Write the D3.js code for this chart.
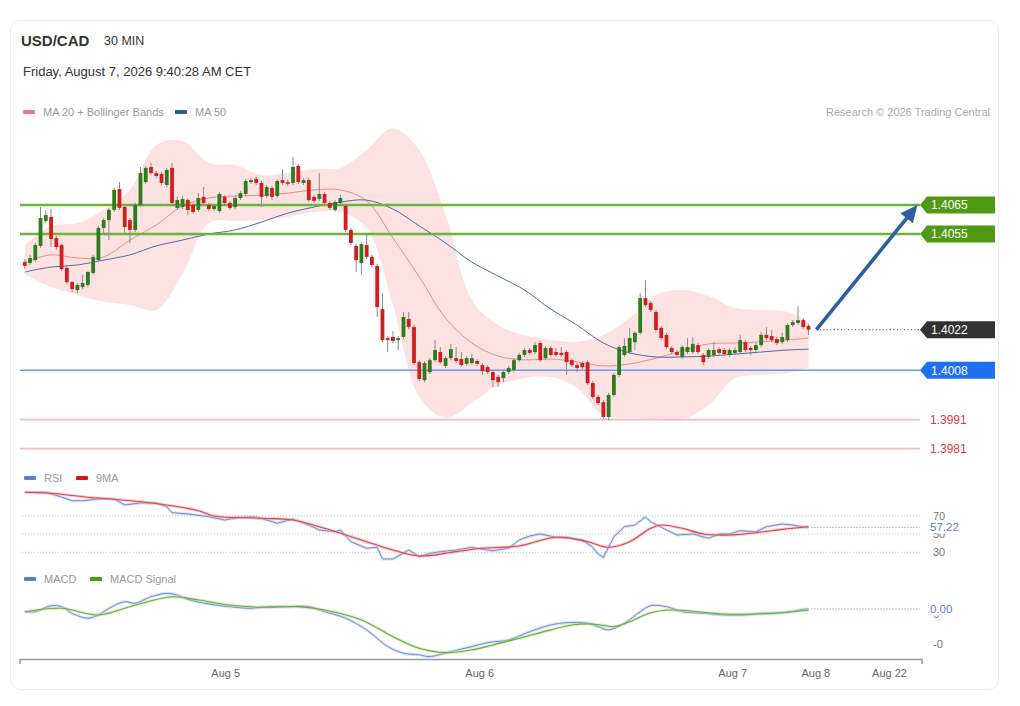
<!DOCTYPE html>
<html><head><meta charset="utf-8">
<script src="https://cdn.jsdelivr.net/npm/d3@7"></script>
<style>
body{margin:0;background:#fff;font-family:"Liberation Sans",Arial,sans-serif}
svg text{font-family:"Liberation Sans",Arial,sans-serif}
</style></head>
<body><svg id="c" width="1020" height="706"></svg>
<script>
// ---------- DATA ----------
const open=[1.40453,1.40450,1.40460,1.40509,1.40595,1.40609,1.40536,1.40512,1.40433,1.40384,
1.40357,1.40367,1.40374,1.40416,1.40460,1.40571,1.40598,1.40633,1.40705,1.40643,
1.40598,1.40564,1.40650,1.40729,1.40781,1.40760,1.40757,1.40719,1.40778,1.40640,
1.40643,1.40667,1.40650,1.40633,1.40678,1.40650,1.40636,1.40629,1.40678,1.40657,
1.40643,1.40674,1.40688,1.40729,1.40740,1.40726,1.40681,1.40709,1.40681,1.40736,
1.40729,1.40726,1.40785,1.40726,1.40736,1.40678,1.40671,1.40688,1.40657,1.40633,
1.40657,1.40647,1.40564,1.40509,1.40450,1.40512,1.40471,1.40440,1.40291,1.40191,
1.40195,1.40184,1.40195,1.40257,1.40229,1.40108,1.40046,1.40074,1.40115,1.40143,
1.40095,1.40122,1.40122,1.40119,1.40102,1.40105,1.40112,1.40098,1.40091,1.40074,
1.40057,1.40053,1.40074,1.40081,1.40115,1.40133,1.40150,1.40143,1.40174,1.40122,
1.40157,1.40143,1.40140,1.40143,1.40115,1.40098,1.40105,1.40108,1.40036,1.39988,
1.39970,1.39919,1.39995,1.40064,1.40133,1.40143,1.40177,1.40209,1.40329,1.40312,
1.40281,1.40226,1.40202,1.40157,1.40143,1.40126,1.40143,1.40143,1.40167,1.40133,
1.40126,1.40133,1.40153,1.40150,1.40133,1.40140,1.40143,1.40177,1.40157,1.40150,
1.40167,1.40202,1.40198,1.40188,1.40177,1.40184,1.40236,1.40243,1.40253,1.40233];
const high=[1.40464,1.40478,1.40519,1.40643,1.40633,1.40636,1.40543,1.40515,1.40440,1.40388,
1.40381,1.40409,1.40422,1.40478,1.40578,1.40605,1.40640,1.40709,1.40729,1.40650,
1.40605,1.40657,1.40781,1.40785,1.40795,1.40767,1.40764,1.40778,1.40795,1.40678,
1.40681,1.40674,1.40657,1.40691,1.40712,1.40657,1.40653,1.40695,1.40685,1.40664,
1.40681,1.40698,1.40740,1.40743,1.40747,1.40733,1.40719,1.40716,1.40740,1.40774,
1.40736,1.40816,1.40791,1.40743,1.40743,1.40685,1.40760,1.40695,1.40664,1.40667,
1.40685,1.40653,1.40571,1.40515,1.40522,1.40553,1.40478,1.40447,1.40346,1.40198,
1.40215,1.40198,1.40281,1.40281,1.40236,1.40115,1.40112,1.40122,1.40184,1.40160,
1.40129,1.40171,1.40160,1.40143,1.40129,1.40136,1.40119,1.40105,1.40098,1.40081,
1.40064,1.40081,1.40095,1.40122,1.40140,1.40157,1.40157,1.40177,1.40181,1.40164,
1.40164,1.40157,1.40160,1.40150,1.40122,1.40105,1.40112,1.40115,1.40043,1.39995,
1.39977,1.40002,1.40071,1.40167,1.40191,1.40226,1.40215,1.40346,1.40391,1.40319,
1.40288,1.40233,1.40209,1.40164,1.40150,1.40167,1.40191,1.40195,1.40174,1.40140,
1.40157,1.40177,1.40160,1.40157,1.40157,1.40160,1.40202,1.40184,1.40164,1.40174,
1.40212,1.40229,1.40219,1.40195,1.40209,1.40243,1.40253,1.40302,1.40260,1.40240];
const low=[1.40429,1.40443,1.40453,1.40502,1.40588,1.40505,1.40495,1.40422,1.40378,1.40350,
1.40346,1.40360,1.40367,1.40409,1.40453,1.40547,1.40529,1.40626,1.40633,1.40553,
1.40519,1.40557,1.40643,1.40723,1.40754,1.40743,1.40719,1.40712,1.40650,1.40633,
1.40636,1.40615,1.40619,1.40626,1.40650,1.40629,1.40629,1.40622,1.40650,1.40633,
1.40636,1.40667,1.40681,1.40723,1.40719,1.40643,1.40674,1.40667,1.40674,1.40719,
1.40716,1.40719,1.40723,1.40719,1.40660,1.40657,1.40664,1.40650,1.40633,1.40626,
1.40650,1.40557,1.40512,1.40419,1.40409,1.40464,1.40436,1.40264,1.40177,1.40143,
1.40174,1.40150,1.40188,1.40222,1.40098,1.40043,1.40040,1.40067,1.40108,1.40102,
1.40088,1.40115,1.40105,1.40091,1.40095,1.40098,1.40095,1.40064,1.40067,1.40022,
1.40022,1.40040,1.40067,1.40074,1.40108,1.40126,1.40133,1.40136,1.40108,1.40115,
1.40126,1.40126,1.40126,1.40064,1.40091,1.40074,1.40084,1.40029,1.39981,1.39960,
1.39912,1.39908,1.39988,1.40057,1.40126,1.40136,1.40150,1.40202,1.40298,1.40281,
1.40212,1.40184,1.40153,1.40136,1.40126,1.40119,1.40136,1.40136,1.40136,1.40098,
1.40119,1.40126,1.40133,1.40129,1.40126,1.40133,1.40136,1.40143,1.40133,1.40143,
1.40160,1.40184,1.40177,1.40167,1.40171,1.40177,1.40229,1.40236,1.40222,1.40202];
const close=[1.40440,1.40467,1.40512,1.40605,1.40615,1.40533,1.40505,1.40429,1.40384,1.40360,
1.40374,1.40381,1.40419,1.40471,1.40571,1.40598,1.40633,1.40702,1.40640,1.40574,
1.40564,1.40650,1.40760,1.40778,1.40760,1.40750,1.40726,1.40771,1.40657,1.40667,
1.40671,1.40633,1.40626,1.40674,1.40657,1.40636,1.40647,1.40688,1.40657,1.40640,
1.40674,1.40691,1.40733,1.40736,1.40726,1.40678,1.40712,1.40678,1.40733,1.40726,
1.40723,1.40781,1.40729,1.40736,1.40667,1.40664,1.40688,1.40657,1.40640,1.40660,
1.40674,1.40564,1.40519,1.40460,1.40515,1.40471,1.40443,1.40298,1.40184,1.40184,
1.40181,1.40191,1.40264,1.40229,1.40105,1.40050,1.40105,1.40115,1.40150,1.40108,
1.40122,1.40153,1.40112,1.40098,1.40122,1.40122,1.40102,1.40077,1.40074,1.40046,
1.40040,1.40074,1.40088,1.40115,1.40133,1.40150,1.40140,1.40167,1.40115,1.40157,
1.40133,1.40133,1.40133,1.40108,1.40098,1.40088,1.40091,1.40036,1.39988,1.39967,
1.39919,1.39995,1.40064,1.40160,1.40164,1.40191,1.40209,1.40329,1.40305,1.40288,
1.40219,1.40191,1.40160,1.40143,1.40133,1.40160,1.40160,1.40171,1.40143,1.40108,
1.40150,1.40150,1.40140,1.40136,1.40150,1.40150,1.40184,1.40150,1.40150,1.40167,
1.40202,1.40191,1.40184,1.40174,1.40195,1.40236,1.40246,1.40253,1.40229,1.40220];

const bandIdx=[1,6,11,16,21,26,31,36,41,46,51,56,61,66,71,76,81,86,91,96,101,106,111,116,121,126,131,136,141,146,150];
const bbUpper=[1.40512,1.40578,1.40588,1.40633,1.40702,1.40857,1.40871,1.40795,1.40788,1.40753,1.40760,1.40774,1.40778,1.40840,1.40915,1.40840,1.40616,1.40322,1.40236,1.40202,1.40185,1.40178,1.40202,1.40260,1.40340,1.40357,1.40336,1.40295,1.40288,1.40281,1.40247];
const bbLower=[1.40412,1.40367,1.40340,1.40316,1.40305,1.40288,1.40412,1.40588,1.40595,1.40598,1.40609,1.40626,1.40626,1.40571,1.40305,1.39988,1.39916,1.39967,1.40029,1.40053,1.40057,1.40019,1.39926,1.39916,1.39909,1.39909,1.39960,1.40053,1.40064,1.40071,1.40088];
const ma20=[1.40453,1.40478,1.40467,1.40471,1.40529,1.40581,1.40647,1.40674,1.40681,1.40684,1.40691,1.40702,1.40702,1.40664,1.40536,1.40402,1.40260,1.40174,1.40129,1.40116,1.40119,1.40109,1.40095,1.40102,1.40122,1.40147,1.40171,1.40174,1.40178,1.40185,1.40191];
const ma50=[1.40419,1.40436,1.40443,1.40460,1.40478,1.40509,1.40529,1.40550,1.40564,1.40591,1.40622,1.40643,1.40660,1.40667,1.40636,1.40578,1.40519,1.40453,1.40405,1.40357,1.40291,1.40236,1.40174,1.40140,1.40126,1.40126,1.40129,1.40136,1.40143,1.40150,1.40153];

const resistances=[1.4065,1.4055];
const lastPrice=1.4022;
const pivot=1.4008;
const supports=[1.3991,1.3981];
const arrowFrom={i:151.5,p:1.4022};
const arrowTo={i:170.7,p:1.4065};

const rsiIdx=[1,5,8,10,12,15,18,20,23,26,28,29,32,36,39,42,45,47,49,52,55,57,60,61,63,66,68,69,71,74,76,78,80,83,86,88,90,93,95,97,99,102,104,107,109,110,111,113,115,117,119,120,123,125,128,131,133,135,137,140,142,145,147,148,150];
const rsiVal=[95.6,95.6,90.4,86.4,86.4,88.3,88.3,81.7,83.9,83.9,79.8,73.3,71.9,68.9,65.3,68.3,68.6,65.3,61.7,66.4,59.8,54.4,52.5,54.4,41.6,34.4,35.5,22.7,22.7,32.5,25.2,28.9,30.7,32.5,35.5,33.3,31.7,34.4,43.4,47.8,50.0,46.4,46.4,43.4,35.5,28.1,24.5,47.0,58.0,59.8,68.6,63.4,54.4,48.9,50.0,45.3,50.0,50.0,53.6,52.5,58.0,60.9,59.8,58.7,57.22];
const rsiMaIdx=[1,6,13,18,27,34,37,46,52,58,65,71,76,83,88,95,102,108,112,116,120,122,126,130,135,140,145,150];
const rsiMaVal=[95.6,94.5,90.1,87.9,82.5,75.5,69.7,67.2,65.3,56.2,43.4,32.5,26.0,30.7,34.4,36.9,46.4,41.6,35.5,41.6,56.2,59.8,56.2,50.0,48.9,51.4,55.1,58.0];
const rsiLevels=[70,50,30];

// MACD values in units of 0.0001
const macdIdx=[1,3,6,8,10,13,15,17,20,22,25,28,30,32,36,40,44,47,51,55,58,62,66,70,73,76,78,82,86,89,93,97,101,104,108,110,112,115,118,120,123,126,130,134,138,141,145,149,150];
const macdVal=[-0.23,-0.23,0.28,0.20,-0.37,-0.79,-0.51,0.06,0.62,0.49,1.05,1.34,1.20,0.83,0.43,0.20,0.06,0.20,0.20,0.20,-0.23,-0.79,-1.79,-3.22,-3.79,-3.93,-4.08,-3.65,-3.22,-2.88,-2.65,-1.94,-1.37,-1.17,-1.22,-1.51,-1.79,-1.22,-0.23,0.28,0.20,-0.23,-0.37,-0.51,-0.51,-0.37,-0.32,-0.03,0.00];
const sigIdx=[1,8,15,21,29,34,40,46,53,58,65,71,76,81,86,90,95,101,105,109,113,116,120,124,129,134,140,145,150];
const sigVal=[-0.23,0.06,-0.51,0.20,1.05,0.77,0.34,0.15,0.20,-0.09,-0.94,-2.37,-3.36,-3.74,-3.50,-3.08,-2.50,-1.79,-1.37,-1.28,-1.51,-1.09,-0.32,-0.09,-0.23,-0.43,-0.43,-0.32,-0.09];
const macdTicks=[0,-3];

const xTickIdx=[39.1,87.4,135.5,151.3,165.3];
const xTickLabels=["Aug 5","Aug 6","Aug 7","Aug 8","Aug 22"];

// ---------- DRAW ----------
const svg=d3.select("#c");
const x=d3.scaleLinear().domain([0,171.5]).range([19.5,921.6]);
const y=d3.scaleLinear().domain([1.3981,1.4065]).range([448.6,205]);
const yR=d3.scaleLinear().domain([30,70]).range([552.3,515.7]);
const yM=d3.scaleLinear().domain([-3,0]).range([644,609]);
const LX0=20, LX1=920, LBL=930;

// card
svg.append("rect").attr("x",10.5).attr("y",20.5).attr("width",988).attr("height",669).attr("rx",10)
  .attr("fill","#fff").attr("stroke","#ededed");

// header
svg.append("text").attr("x",21).attr("y",46).attr("font-size",15).attr("font-weight","bold").attr("fill","#333").text("USD/CAD");
svg.append("text").attr("x",104).attr("y",45).attr("font-size",12.5).attr("fill","#333").text("30 MIN");
svg.append("text").attr("x",23).attr("y",76).attr("font-size",13).attr("fill","#333").text("Friday, August 7, 2026 9:40:28 AM CET");

function legend(items,yy){
  items.forEach(it=>{
    svg.append("rect").attr("x",it.x).attr("y",yy-2).attr("width",12).attr("height",4).attr("rx",1).attr("fill",it.c);
    svg.append("text").attr("x",it.x+20).attr("y",yy+4).attr("font-size",11).attr("fill","#999").text(it.t);
  });
}
legend([{x:23,c:"#f07878",t:"MA 20 + Bollinger Bands"},{x:175,c:"#2e5a96",t:"MA 50"}],112);
svg.append("text").attr("x",990).attr("y",116).attr("text-anchor","end").attr("font-size",11).attr("fill","#aaa").text("Research © 2026 Trading Central");

// Bollinger band
const band=bandIdx.map((d,k)=>({i:d,u:bbUpper[k],l:bbLower[k],m20:ma20[k],m50:ma50[k]}));
svg.append("path").datum(band)
  .attr("d",d3.area().x(d=>x(d.i)).y0(d=>y(d.l)).y1(d=>y(d.u)).curve(d3.curveCatmullRom))
  .attr("fill","#fde2e2");
svg.append("path").datum(band).attr("d",d3.line().x(d=>x(d.i)).y(d=>y(d.m20)).curve(d3.curveCatmullRom))
  .attr("fill","none").attr("stroke","#f08a8a").attr("stroke-width",1);
svg.append("path").datum(band).attr("d",d3.line().x(d=>x(d.i)).y(d=>y(d.m50)).curve(d3.curveCatmullRom))
  .attr("fill","none").attr("stroke","#4a6ea8").attr("stroke-width",1);

// level lines
resistances.forEach(v=>{
  svg.append("line").attr("x1",LX0).attr("x2",LX1).attr("y1",y(v)).attr("y2",y(v)).attr("stroke","#6db33f").attr("stroke-width",2.5);
});
svg.append("line").attr("x1",LX0).attr("x2",LX1).attr("y1",y(pivot)).attr("y2",y(pivot)).attr("stroke","#6d98ee").attr("stroke-width",1.6);
supports.forEach(v=>{
  svg.append("line").attr("x1",LX0).attr("x2",LX1).attr("y1",y(v)).attr("y2",y(v)).attr("stroke","#f5bcbc").attr("stroke-width",1.6);
});

// candles
const candles=open.map((o,k)=>({i:k+1,o,h:high[k],l:low[k],c:close[k]}));
const cg=svg.append("g");
cg.selectAll("line.w").data(candles).join("line").attr("class","w")
  .attr("x1",d=>x(d.i)).attr("x2",d=>x(d.i)).attr("y1",d=>y(d.h)).attr("y2",d=>y(d.l))
  .attr("stroke","#8a8a8a").attr("stroke-width",1);
cg.selectAll("rect").data(candles).join("rect")
  .attr("x",d=>x(d.i)-1.9).attr("width",3.8)
  .attr("y",d=>y(Math.max(d.o,d.c)))
  .attr("height",d=>Math.max(1.2,Math.abs(y(d.o)-y(d.c))))
  .attr("fill",d=>d.c>=d.o?"#2d7a1f":"#d11f1f");

// last price dotted
svg.append("line").attr("x1",x(arrowFrom.i)).attr("x2",LX1).attr("y1",y(lastPrice)).attr("y2",y(lastPrice))
  .attr("stroke","#333").attr("stroke-dasharray","1,2.5").attr("stroke-width",1);

// arrow
(function(){
  const x1=x(arrowFrom.i),y1=y(arrowFrom.p),x2=x(arrowTo.i),y2=y(arrowTo.p);
  const ang=Math.atan2(y2-y1,x2-x1), L=17, Wd=8;
  const bx=x2-L*Math.cos(ang), by=y2-L*Math.sin(ang);
  svg.append("line").attr("x1",x1).attr("y1",y1).attr("x2",bx+3*Math.cos(ang)).attr("y2",by+3*Math.sin(ang))
    .attr("stroke","#2d5f9c").attr("stroke-width",3.6);
  const px=-Math.sin(ang),py=Math.cos(ang);
  svg.append("path").attr("d",`M${x2},${y2}L${bx+Wd*px},${by+Wd*py}L${bx-Wd*px},${by-Wd*py}Z`).attr("fill","#2d5f9c");
})();

// tags
function tag(v,color,txt){
  const yy=y(v);
  svg.append("path").attr("d",`M${LX1},${yy}L${LX1+7},${yy-8.5}L995,${yy-8.5}L995,${yy+8.5}L${LX1+7},${yy+8.5}Z`).attr("fill",color);
  svg.append("text").attr("x",LBL+1).attr("y",yy+4.3).attr("font-size",12).attr("fill","#fff").text(txt);
}
resistances.forEach(v=>tag(v,"#4f9a12",v.toFixed(4)));
tag(lastPrice,"#333333",lastPrice.toFixed(4));
tag(pivot,"#1f6ff0",pivot.toFixed(4));
supports.forEach(v=>{
  svg.append("text").attr("x",LBL).attr("y",y(v)+4.3).attr("font-size",12).attr("fill","#e5393b").text(v.toFixed(4));
});

// ---------- RSI ----------
legend([{x:24,c:"#5b7fd6",t:"RSI"},{x:76,c:"#e01010",t:"9MA"}],478);
rsiLevels.forEach(v=>{
  svg.append("line").attr("x1",LX0+2).attr("x2",LX1).attr("y1",yR(v)).attr("y2",yR(v))
    .attr("stroke","#c4c4c4").attr("stroke-dasharray","1,2").attr("stroke-width",1);
  svg.append("text").attr("x",LBL+3).attr("y",yR(v)+4).attr("font-size",11).attr("fill","#777").text(v);
});
const rsiPts=rsiIdx.map((d,k)=>[x(d),yR(rsiVal[k])]);
const rsiMaPts=rsiMaIdx.map((d,k)=>[x(d),yR(rsiMaVal[k])]);
const lineG=d3.line().curve(d3.curveLinear);
const lineS=d3.line().curve(d3.curveCatmullRom);
svg.append("path").attr("d",lineG(rsiPts)).attr("fill","none").attr("stroke","#a9bdf0").attr("stroke-width",3).attr("opacity",0.45);
svg.append("path").attr("d",lineG(rsiPts)).attr("fill","none").attr("stroke","#6d8ed9").attr("stroke-width",1);
svg.append("path").attr("d",lineS(rsiMaPts)).attr("fill","none").attr("stroke","#f3a0a0").attr("stroke-width",3).attr("opacity",0.5);
svg.append("path").attr("d",lineS(rsiMaPts)).attr("fill","none").attr("stroke","#e04545").attr("stroke-width",1.1);
const rsiLast=rsiVal[rsiVal.length-1];
svg.append("line").attr("x1",x(rsiIdx[rsiIdx.length-1])+3).attr("x2",LX1).attr("y1",yR(rsiLast)).attr("y2",yR(rsiLast))
  .attr("stroke","#5b7fd6").attr("stroke-dasharray","1,2").attr("stroke-width",1);
svg.append("rect").attr("x",LBL).attr("y",yR(rsiLast)-6).attr("width",34).attr("height",12).attr("fill","#fff");
svg.append("text").attr("x",LBL).attr("y",yR(rsiLast)+4).attr("font-size",11.5).attr("fill","#5b7fd6").text(rsiLast.toFixed(2));

// ---------- MACD ----------
legend([{x:24,c:"#5b7fd6",t:"MACD"},{x:90,c:"#4a9a1a",t:"MACD Signal"}],579);
const macdPts=macdIdx.map((d,k)=>[x(d),yM(macdVal[k])]);
const sigPts=sigIdx.map((d,k)=>[x(d),yM(sigVal[k])]);
svg.append("path").attr("d",lineS(macdPts)).attr("fill","none").attr("stroke","#a9bdf0").attr("stroke-width",3).attr("opacity",0.45);
svg.append("path").attr("d",lineS(macdPts)).attr("fill","none").attr("stroke","#6d8ed9").attr("stroke-width",1);
svg.append("path").attr("d",lineS(sigPts)).attr("fill","none").attr("stroke","#b5dc98").attr("stroke-width",3).attr("opacity",0.5);
svg.append("path").attr("d",lineS(sigPts)).attr("fill","none").attr("stroke","#6aae38").attr("stroke-width",1.1);
macdTicks.forEach(v=>{
  const yy=v===0?yM(v)+9:yM(v)+4;
  svg.append("text").attr("x",LBL+3).attr("y",yy).attr("font-size",11).attr("fill","#777").text((v/1e4).toFixed(0));
});
const macdLast=macdVal[macdVal.length-1];
svg.append("line").attr("x1",x(macdIdx[macdIdx.length-1])+3).attr("x2",LX1).attr("y1",yM(macdLast)).attr("y2",yM(macdLast))
  .attr("stroke","#5b7fd6").attr("stroke-dasharray","1,2").attr("stroke-width",1);
svg.append("rect").attr("x",LBL).attr("y",yM(macdLast)-6).attr("width",34).attr("height",12.5).attr("fill","#fff");
svg.append("text").attr("x",LBL).attr("y",yM(macdLast)+4).attr("font-size",11.5).attr("fill","#5b7fd6").text((macdLast/1e4).toFixed(2));

// ---------- X AXIS ----------
const ax=svg.append("g").attr("transform","translate(0,659)")
  .call(d3.axisBottom(x).tickValues(xTickIdx).tickFormat((d,k)=>xTickLabels[k]).tickSizeInner(0).tickSizeOuter(5).tickPadding(10));
ax.select(".domain").attr("stroke","#9a9a9a").attr("stroke-width",1.5);
ax.selectAll("text").attr("font-size",11).attr("fill","#666").attr("font-family","Liberation Sans, Arial, sans-serif");
</script></body></html>
